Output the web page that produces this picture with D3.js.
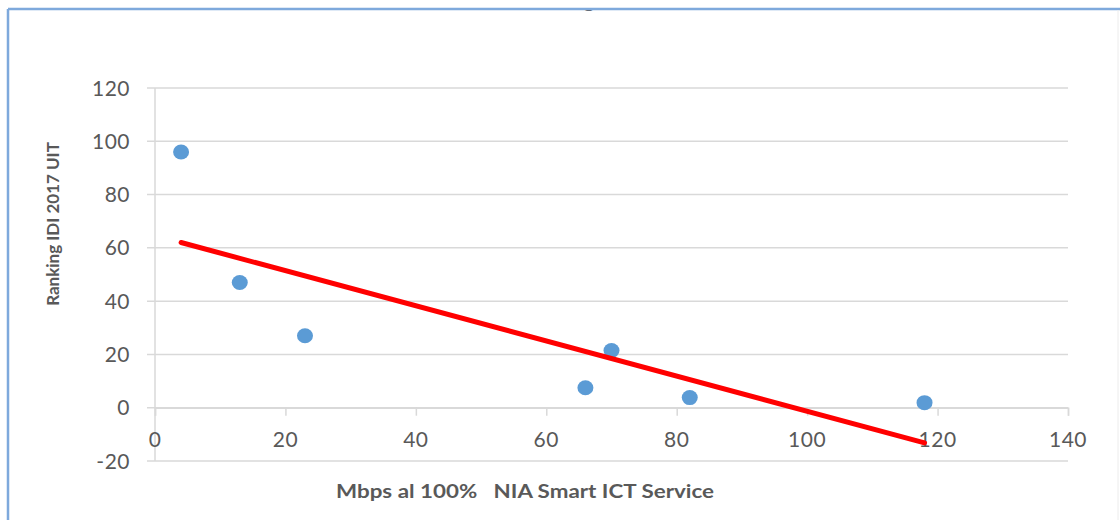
<!DOCTYPE html>
<html>
<head>
<meta charset="utf-8">
<script src="https://cdn.jsdelivr.net/npm/d3@7"></script>
<style>
  body { margin: 0; background: #fff; }
  svg { display: block; }
</style>
</head>
<body>
<div id="chart"></div>
<script>
// data
const speedMbps = [4, 13, 23, 66, 70, 82, 118];
const rankingIdi = [96, 47, 27, 7.5, 21.5, 3.8, 1.9];
// linear trendline drawn by the spreadsheet, endpoints as read
const trendX = [4, 118];
const trendY = [62, -13.2];
const xTicks = [0, 20, 40, 60, 80, 100, 120, 140];
const yTicks = [-20, 0, 20, 40, 60, 80, 100, 120];

const width = 1120, height = 520;
const textColor = "#595959";
const gridColor = "#d9d9d9";
const dotColor = "#5b9bd5";
const lineColor = "#ff0000";

const svg = d3.select("#chart").append("svg")
    .attr("width", width)
    .attr("height", height);

const x = d3.scaleLinear().domain([0, 140]).range([155, 1068]);
const y = d3.scaleLinear().domain([-20, 120]).range([461, 88]);

// chart title is cut off above the frame, only its descender shows
svg.append("clipPath").attr("id", "titleClip")
    .append("rect").attr("x", 0).attr("y", 9).attr("width", width).attr("height", 20);
svg.append("text")
    .attr("clip-path", "url(#titleClip)")
    .attr("x", 589).attr("y", 7)
    .attr("text-anchor", "middle")
    .style("font-family", "Lato, sans-serif")
    .style("font-weight", "bold")
    .style("font-size", "22px")
    .style("fill", textColor)
    .text("g");

// frame
svg.append("line").attr("x1", 8).attr("x2", width).attr("y1", 9).attr("y2", 9)
    .style("stroke", "#7ea9dc").style("stroke-width", 2.5);
svg.append("line").attr("x1", 8).attr("x2", 8).attr("y1", 9).attr("y2", height)
    .style("stroke", "#7ea9dc").style("stroke-width", 2.5);
svg.append("line").attr("x1", 1118).attr("x2", 1118).attr("y1", 10).attr("y2", height)
    .style("stroke", "#ececec").style("stroke-width", 1);

// horizontal gridlines
svg.append("g").selectAll("line")
    .data(yTicks)
    .enter().append("line")
    .attr("x1", 147).attr("x2", x(140))
    .attr("y1", d => y(d)).attr("y2", d => y(d))
    .style("stroke", gridColor)
    .style("stroke-width", 1.5);

// vertical axis line
svg.append("line")
    .attr("x1", x(0)).attr("x2", x(0))
    .attr("y1", y(120)).attr("y2", y(-20))
    .style("stroke", gridColor).style("stroke-width", 1.5);

// horizontal axis at zero with ticks hanging down
const xAxis = d3.axisBottom(x).tickValues(xTicks).tickSize(8).tickFormat("");
const gx = svg.append("g")
    .attr("transform", `translate(0,${y(0)})`)
    .call(xAxis);
gx.select(".domain").style("stroke", gridColor).style("stroke-width", 1.5);
gx.selectAll(".tick line").style("stroke", gridColor).style("stroke-width", 1.5);

// y tick labels
svg.append("g").selectAll("text")
    .data(yTicks)
    .enter().append("text")
    .attr("x", 130)
    .attr("y", d => y(d))
    .attr("dy", "0.36em")
    .attr("text-anchor", "end")
    .style("font-family", "Lato, sans-serif")
    .style("font-size", "21px")
    .style("letter-spacing", "0.5px")
    .style("fill", textColor)
    .text(d => d);

// x tick labels (sit between zero line and -20 line)
svg.append("g").selectAll("text")
    .data(xTicks)
    .enter().append("text")
    .attr("x", d => x(d))
    .attr("y", 447)
    .attr("text-anchor", "middle")
    .style("font-family", "Lato, sans-serif")
    .style("font-size", "21px")
    .style("letter-spacing", "0.5px")
    .style("fill", textColor)
    .text(d => d);

// points
svg.append("g").selectAll("ellipse")
    .data(speedMbps.map((v, i) => [v, rankingIdi[i]]))
    .enter().append("ellipse")
    .attr("cx", d => x(d[0]))
    .attr("cy", d => y(d[1]))
    .attr("rx", 8).attr("ry", 7.5)
    .style("fill", dotColor);

// trendline
const line = d3.line().x(d => x(d[0])).y(d => y(d[1]));
svg.append("path")
    .datum(trendX.map((v, i) => [v, trendY[i]]))
    .attr("d", line)
    .style("fill", "none")
    .style("stroke", lineColor)
    .style("stroke-width", 5)
    .style("stroke-linecap", "round");

// axis titles
svg.append("text")
    .attr("x", 525).attr("y", 498)
    .attr("text-anchor", "middle")
    .attr("textLength", 378)
    .attr("lengthAdjust", "spacingAndGlyphs")
    .style("font-family", "Lato, sans-serif")
    .style("font-weight", "bold")
    .style("font-size", "19px")
    .style("white-space", "pre")
    .style("fill", textColor)
    .attr("xml:space", "preserve")
    .text("Mbps al 100%   NIA Smart ICT Service");

svg.append("text")
    .attr("transform", "translate(59,224) rotate(-90)")
    .attr("text-anchor", "middle")
    .style("font-family", "Lato, sans-serif")
    .style("font-weight", "bold")
    .style("font-size", "17px")
    .style("fill", textColor)
    .text("Ranking IDI 2017 UIT");
</script>
</body>
</html>
